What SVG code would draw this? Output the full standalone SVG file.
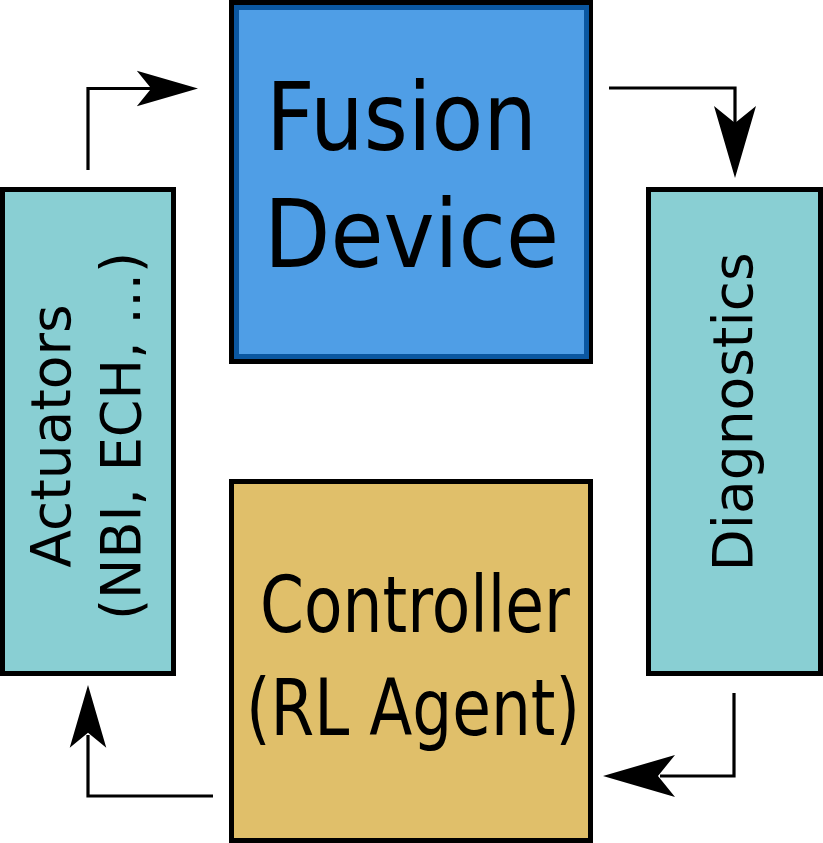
<svg xmlns="http://www.w3.org/2000/svg" xmlns:xlink="http://www.w3.org/1999/xlink" width="823" height="843" viewBox="0 0 823 843">
<style>
.box{stroke:#000;stroke-width:5}
.teal{fill:#89cfd3}
.gold{fill:#e0bf6a}
.lbl{font-family:"DejaVu Sans","Liberation Sans",sans-serif;fill:#000}
.conn{fill:none;stroke:#000;stroke-width:3.2}
.head{fill:#000}
</style>
<defs>
<path id="ah" d="M0,0 L-72,-21 L-55,0 L-72,21 Z"/>
</defs>
<rect width="823" height="843" fill="#fff"/>
<g id="fusion">
<rect class="box" x="231.5" y="2.5" width="359" height="359" fill="#4f9ee6"/>
<rect x="236.5" y="7.5" width="350" height="349" fill="none" stroke="#0b57a0" stroke-width="5"/>
<text class="lbl" x="266" y="150" font-size="95" textLength="271" lengthAdjust="spacingAndGlyphs">Fusion</text>
<text class="lbl" x="264" y="267" font-size="95" textLength="295" lengthAdjust="spacingAndGlyphs">Device</text>
</g>
<g id="actuators">
<rect class="box teal" x="2.5" y="189.5" width="171" height="484"/>
<text class="lbl" transform="translate(70,436) rotate(-90)" text-anchor="middle" font-size="55">Actuators</text>
<text class="lbl" transform="translate(140,436) rotate(-90)" text-anchor="middle" font-size="55" textLength="368" lengthAdjust="spacingAndGlyphs">(NBI, ECH, ...)</text>
</g>
<g id="diagnostics">
<rect class="box teal" x="648.5" y="189.5" width="172" height="484"/>
<text class="lbl" transform="translate(752,412) rotate(-90)" text-anchor="middle" font-size="55">Diagnostics</text>
</g>
<g id="controller">
<rect class="box gold" x="231.5" y="481.5" width="359" height="359"/>
<text class="lbl" x="260" y="632" font-size="78" textLength="310" lengthAdjust="spacingAndGlyphs">Controller</text>
<text class="lbl" x="246" y="735" font-size="78" textLength="334" lengthAdjust="spacingAndGlyphs">(RL Agent)</text>
</g>
<g id="connectors">
<path class="conn" d="M88,170 V88.5 H160"/>
<use xlink:href="#ah" class="head" transform="translate(198,88.5) scale(0.85)"/>
<path class="conn" d="M609,88 H735 V130"/>
<use xlink:href="#ah" class="head" transform="translate(735,178) rotate(90)"/>
<path class="conn" d="M734,693 V776 H660"/>
<use xlink:href="#ah" class="head" transform="translate(603,776) rotate(180)"/>
<path class="conn" d="M213,796 H88 V735"/>
<use xlink:href="#ah" class="head" transform="translate(88,685) rotate(-90) scale(0.87)"/>
</g>
</svg>
